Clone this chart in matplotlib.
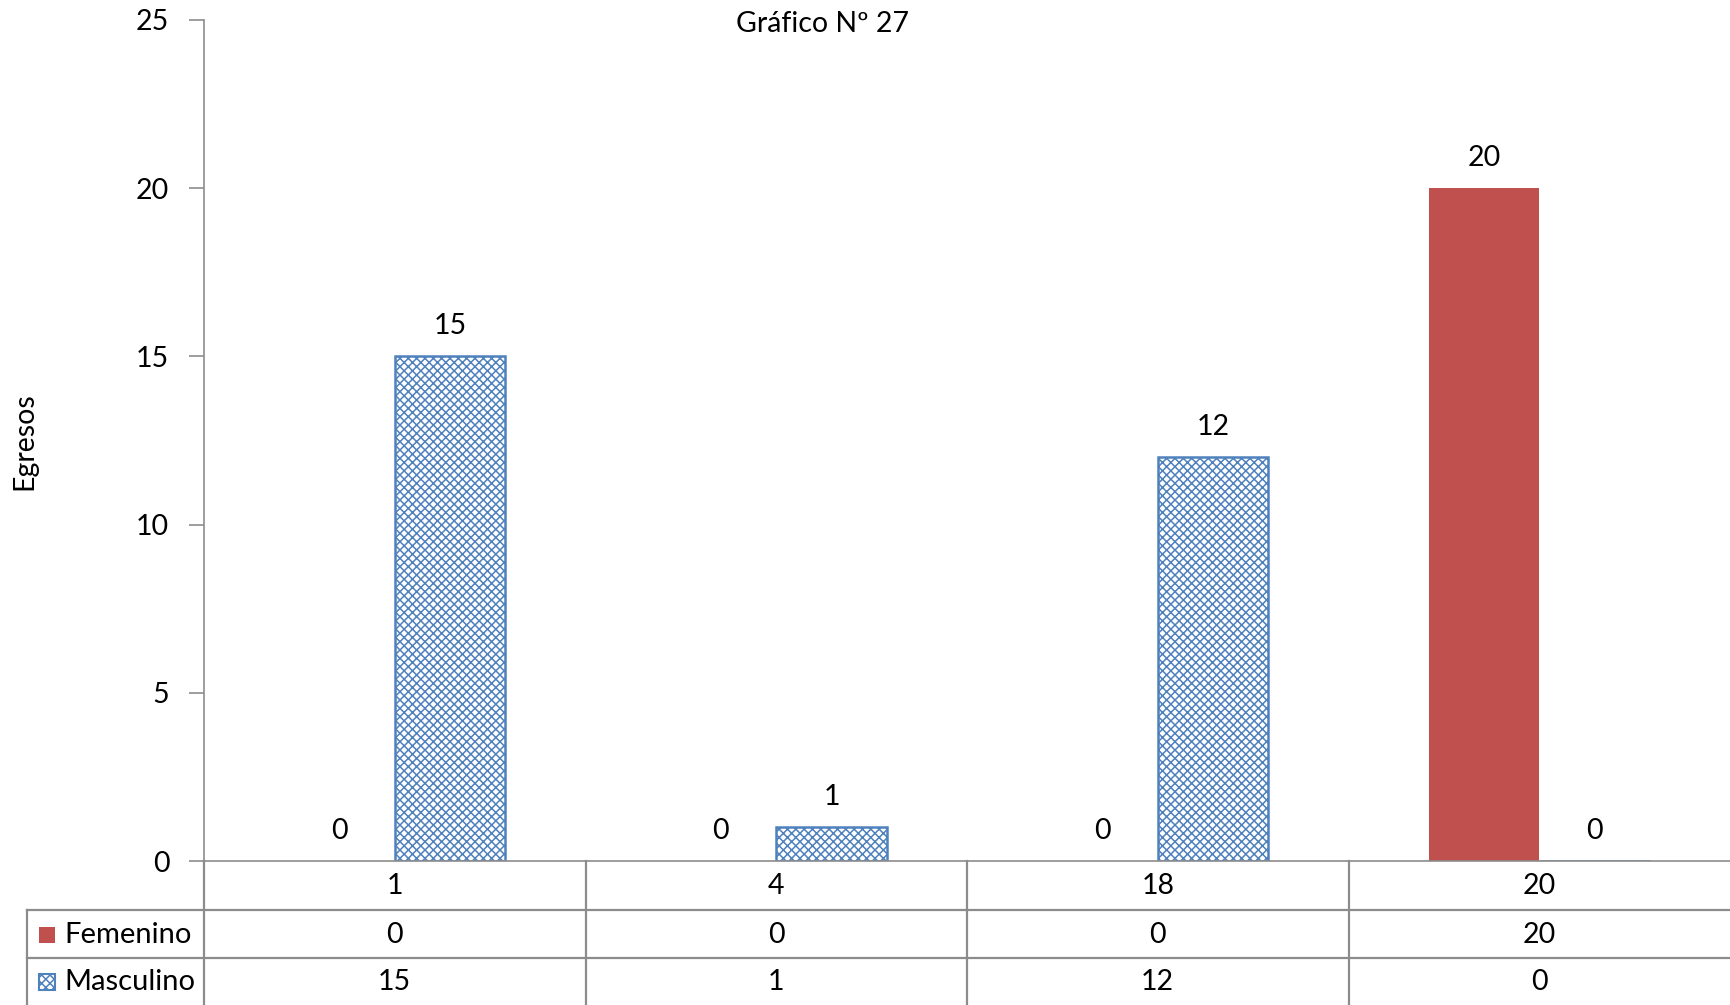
import numpy as np
import matplotlib
matplotlib.use("Agg")
import matplotlib.pyplot as plt
from matplotlib.patches import Rectangle
from matplotlib.lines import Line2D

# Datos del gráfico
categorias = ["1", "4", "18", "20"]
femenino = [0, 0, 0, 20]
masculino = [15, 1, 12, 0]
series = ["Femenino", "Masculino"]

rojo = "#C0504D"
azul = "#4F81BD"
gris = "#8C8C8C"

plt.rcParams['font.family'] = ['Lato', 'DejaVu Sans']
plt.rcParams['hatch.linewidth'] = 1.1
plt.rcParams['hatch.color'] = azul

W, H = 1730, 1005
fig = plt.figure(figsize=(W / 100, H / 100), dpi=100)

def fx(px):
    return px / W

def fy(py):
    return 1 - py / H

fs = 20.5

# ejes: pixel 204 -> 1730 en x, 20 -> 861 en y
ax = fig.add_axes([fx(204), fy(861), fx(1730 - 204), (861 - 20) / H])

x = np.arange(len(categorias)) + 0.5
ancho = 0.29

ax.bar(x - ancho / 2, femenino, ancho, color=rojo, zorder=2)
ax.bar(x + ancho / 2, masculino, ancho, color="white", edgecolor=azul,
       hatch="xxxx", linewidth=1.8, zorder=2)

for xi, v in zip(x - ancho / 2, femenino):
    ax.annotate(str(v), (xi, v), xytext=(0, 30), textcoords="offset pixels",
                ha="center", va="center", fontsize=fs)
for xi, v in zip(x + ancho / 2, masculino):
    ax.annotate(str(v), (xi, v), xytext=(0, 30), textcoords="offset pixels",
                ha="center", va="center", fontsize=fs)

ax.set_xlim(0, len(categorias))
ax.set_ylim(0, 25)
ax.set_yticks(np.arange(0, 26, 5))
ax.set_xticks([])
ax.tick_params(axis="y", labelsize=fs, length=11, width=1.2, color=gris, pad=14)
for s in ["top", "right"]:
    ax.spines[s].set_visible(False)
ax.spines["left"].set_color(gris)
ax.spines["bottom"].set_color(gris)
ax.spines["left"].set_linewidth(1.2)
ax.spines["bottom"].set_linewidth(1.2)

fig.text(fx(24), fy(441), "Egresos", rotation=90, ha="center", va="center",
         fontsize=fs)
fig.text(fx(822), fy(24), "Gráfico Nº 27", ha="center", va="center",
         fontsize=fs)

# tabla de datos debajo del eje
filas_y = [861, 910, 958, 1005]
cols_x = [204 + i * (1730 - 204) / 4 for i in range(5)]

def linea(x0, y0, x1, y1):
    fig.add_artist(Line2D([fx(x0), fx(x1)], [fy(y0), fy(y1)], color=gris,
                          lw=1.6, transform=fig.transFigure))

linea(27, filas_y[1], 1730, filas_y[1])
linea(27, filas_y[2], 1730, filas_y[2])
linea(27, filas_y[1], 27, 1005)
for cx in cols_x[:-1]:
    linea(cx, filas_y[0], cx, 1005)

centros = [(cols_x[i] + cols_x[i + 1]) / 2 for i in range(4)]
for i, c in enumerate(categorias):
    fig.text(fx(centros[i]), fy(886), c, ha="center", va="center", fontsize=fs)
for fila, valores in zip([935, 982], [femenino, masculino]):
    for i, v in enumerate(valores):
        fig.text(fx(centros[i]), fy(fila), str(v), ha="center", va="center",
                 fontsize=fs)

# leyenda dentro de la tabla
fig.add_artist(Rectangle((fx(39), fy(943)), fx(16), 16 / H, facecolor=rojo,
                         edgecolor="none", transform=fig.transFigure))
fig.add_artist(Rectangle((fx(39), fy(990)), fx(16), 16 / H, facecolor="white",
                         edgecolor=azul, hatch="xxxx", lw=1.5,
                         transform=fig.transFigure))
fig.text(fx(64), fy(935), series[0], ha="left", va="center", fontsize=fs + 0.5)
fig.text(fx(64), fy(982), series[1], ha="left", va="center", fontsize=fs + 0.5)

fig.savefig("out.png", dpi=100)
